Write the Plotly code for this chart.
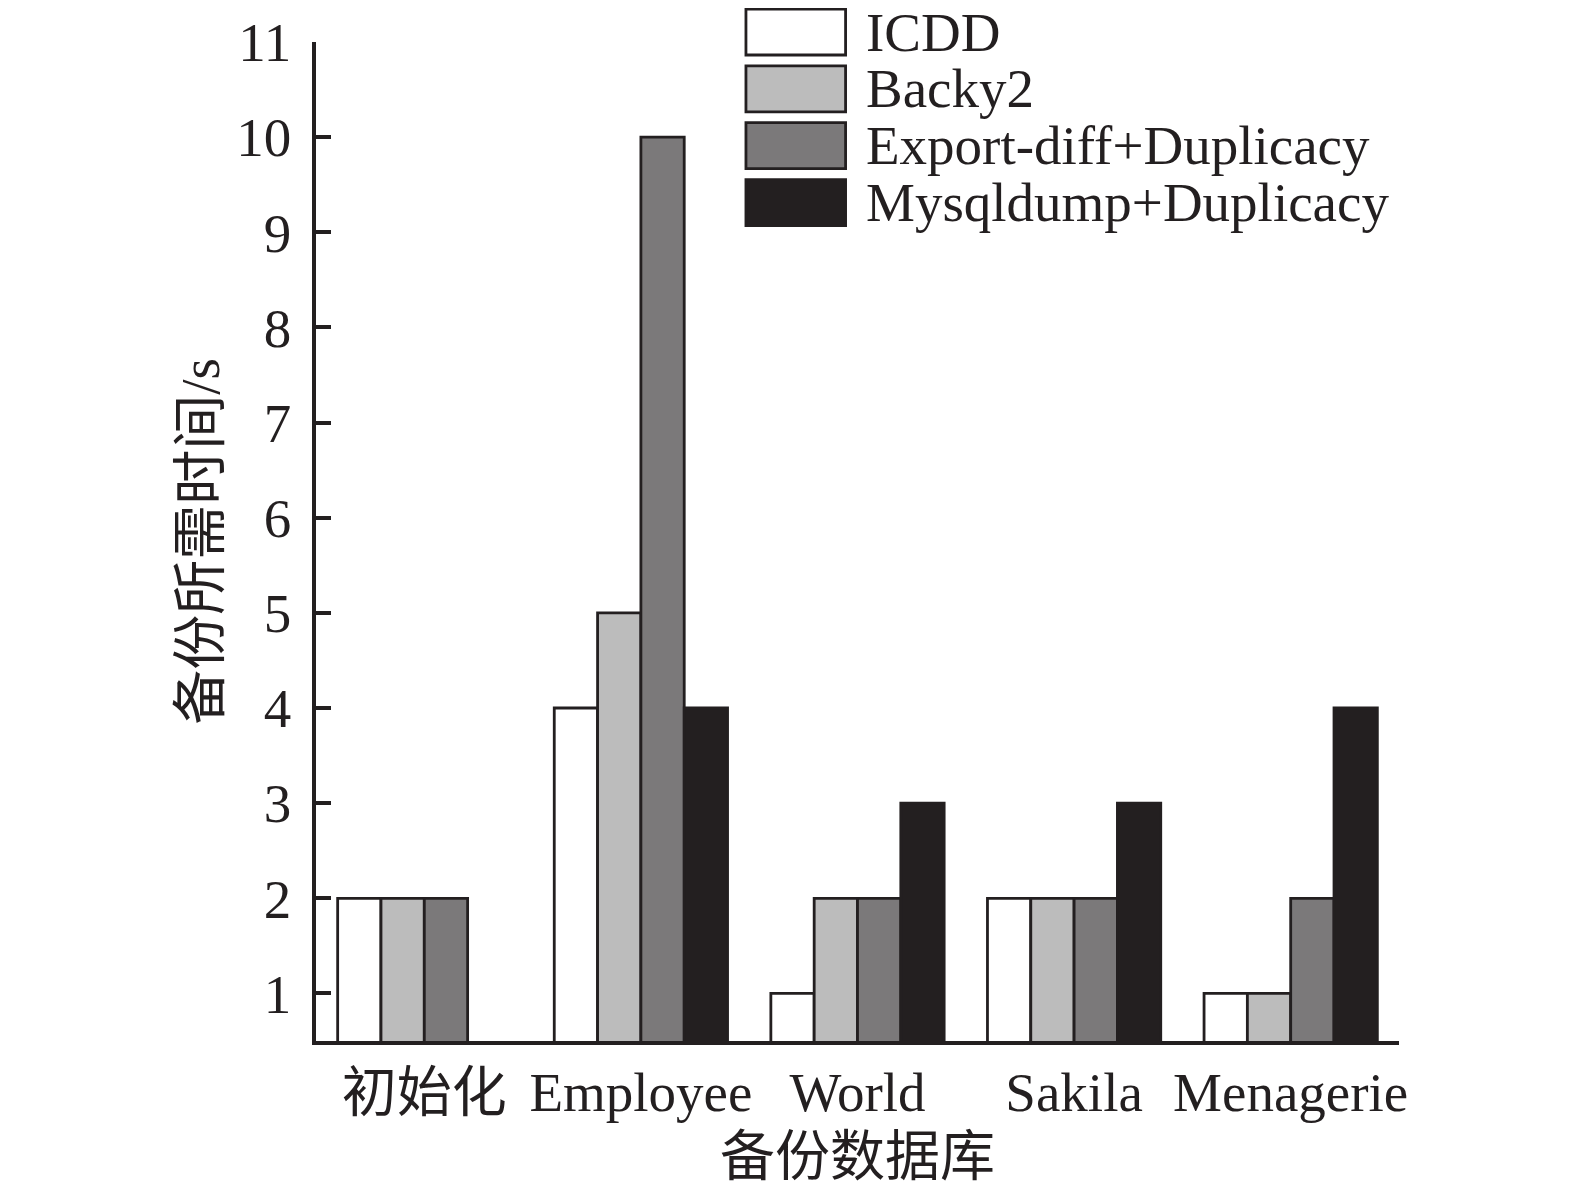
import plotly.graph_objects as go

databases = ["初始化", "Employee", "World", "Sakila", "Menagerie"]
series_names = ["ICDD", "Backy2", "Export-diff+Duplicacy", "Mysqldump+Duplicacy"]
icdd = [2, 4, 1, 2, 1]
backy2 = [2, 5, 2, 2, 1]
export_diff = [2, 10, 2, 2, 2]
mysqldump = [0, 4, 3, 3, 4]
y_ticks = list(range(1, 12))

colors = ["#ffffff", "#bcbcbc", "#7b797a", "#231f20"]
edge = "#231f20"
font_family = "Liberation Serif, Times New Roman, Noto Sans CJK SC"
fs = 55

fig = go.Figure()
for name, vals, col in zip(series_names, [icdd, backy2, export_diff, mysqldump], colors):
    fig.add_trace(go.Bar(x=databases, y=vals, name=name,
                         marker=dict(color=col, line=dict(color=edge, width=2.8)),
                         showlegend=False))

# hand-made legend with large boxes (plotly's own legend keys are tiny)
shapes = []
annotations = []
row_h = 0.0569
top = 1.033
for i, (name, col) in enumerate(zip(series_names, colors)):
    y1 = top - i * row_h
    y0 = y1 - 0.046
    shapes.append(dict(type="rect", xref="paper", yref="paper",
                       x0=0.397, x1=0.489, y0=y0, y1=y1,
                       fillcolor=col, line=dict(color=edge, width=2.8)))
    annotations.append(dict(xref="paper", yref="paper", x=0.506, y=(y0 + y1) / 2,
                            text=name, showarrow=False, xanchor="left", yanchor="middle",
                            font=dict(size=fs, family=font_family, color="#231f20")))

fig.update_layout(
    width=1575, height=1195,
    margin=dict(l=308, r=184, t=34, b=162),
    plot_bgcolor="white", paper_bgcolor="white",
    font=dict(family=font_family, size=fs, color="#231f20"),
    barmode="group", bargap=0.2, bargroupgap=0,
    shapes=shapes, annotations=annotations,
)
fig.update_xaxes(showline=True, linecolor=edge, linewidth=3.5, ticks="",
                 showgrid=False, ticklabelstandoff=0, automargin=False,
                 title=dict(text="备份数据库", standoff=16, font=dict(size=fs)))
fig.update_yaxes(range=[0.5, 11], tickvals=y_ticks, showline=True, linecolor=edge,
                 linewidth=3.5, ticks="inside", ticklen=15, tickwidth=3.5, tickcolor=edge,
                 showgrid=False, zeroline=False, ticklabelstandoff=10, automargin=False,
                 title=dict(text="备份所需时间/s", standoff=0, font=dict(size=fs)))

fig.write_html("out.html")
